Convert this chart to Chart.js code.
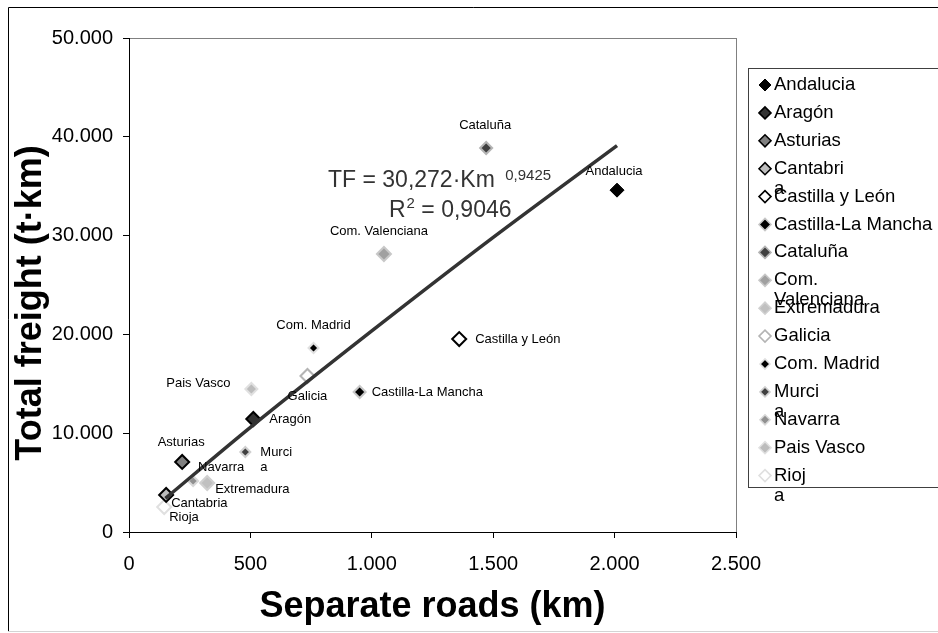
<!DOCTYPE html>
<html>
<head>
<meta charset="utf-8">
<script src="https://cdn.jsdelivr.net/npm/chart.js@4.4.1/dist/chart.umd.min.js"></script>
<style>
  html, body { margin: 0; padding: 0; background: #fff; }
  #wrap { position: relative; width: 938px; height: 633px; overflow: hidden; }
</style>
</head>
<body>
<div id="wrap"><canvas id="js-scatter" width="938" height="633"></canvas></div>
<script>
"use strict";

// データ
const regions = ["Andalucia", "Aragón", "Asturias", "Cantabria", "Castilla y León", "Castilla-La Mancha", "Cataluña", "Com. Valenciana", "Extremadura", "Galicia", "Com. Madrid", "Murcia", "Navarra", "Pais Vasco", "Rioja"];
const roadsKm = [2010, 512, 219, 153, 1360, 950, 1471, 1050, 322, 735, 760, 479, 264, 504, 145];
const freight = [34600, 11440, 7090, 3750, 19530, 14170, 38870, 28140, 4960, 15790, 18620, 8100, 5160, 14470, 2530];
const trendKm = [150, 500, 1000, 1500, 2010];
const trendTF = [3400, 10590, 20350, 29820, 39110];
const xTicks = [0, 500, 1000, 1500, 2000, 2500];
const yTicks = [0, 10000, 20000, 30000, 40000, 50000];

// 表示テキスト(Excel風の折り返し)
const pointText = [["Andalucia"], ["Aragón"], ["Asturias"], ["Cantabria"], ["Castilla y León"], ["Castilla-La Mancha"], ["Cataluña"], ["Com. Valenciana"], ["Extremadura"], ["Galicia"], ["Com. Madrid"], ["Murci", "a"], ["Navarra"], ["Pais Vasco"], ["Rioja"]];
const legendText = [["Andalucia"], ["Aragón"], ["Asturias"], ["Cantabri", "a"], ["Castilla y León"], ["Castilla-La Mancha"], ["Cataluña"], ["Com.", "Valenciana"], ["Extremadura"], ["Galicia"], ["Com. Madrid"], ["Murci", "a"], ["Navarra"], ["Pais Vasco"], ["Rioj", "a"]];

// マーカーのスタイル
const fillColors = ["#000000", "#333333", "#808080", "#bdbdbd", "#ffffff", "#000000", "#404040", "#a0a0a0", "#c0c0c0", "#ffffff", "#000000", "#404040", "#909090", "#bcbcbc", "#ffffff"];
const edgeColors = ["#000000", "#000000", "#000000", "#000000", "#000000", "#c8c8c8", "#b4b4b4", "#c8c8c8", "#d0d0d0", "#b4b4b4", "#e0e0e0", "#d0d0d0", "#d8d8d8", "#e0e0e0", "#e0e0e0"];
const markerRadius = [7, 7, 7, 7, 7, 6, 6, 7, 7, 7, 5, 5, 5, 6, 7];
const edgeWidth = [1, 2, 2, 2, 2, 2, 2, 2, 2, 2, 2, 2, 2, 2, 2];
// ラベル位置 [dx, dy, align]
const labelOffsets = [[-3, -19, "center"], [16, 0, "left"], [-1, -20, "center"], [5, 8, "left"], [16, 0, "left"], [12, 0, "left"], [-1, -23, "center"], [-5, -23, "center"], [8, 6, "left"], [0, 20, "center"], [0, -23, "center"], [15, 0, "left"], [5, -14, "left"], [-21, -6, "right"], [5, 10, "left"]];

const FONT = "'Liberation Sans', Arial, sans-serif";

function formatThousands(v) {
  return String(v).replace(/\B(?=(\d{3})+(?!\d))/g, ".");
}

function diamond(ctx, x, y, r) {
  ctx.beginPath();
  ctx.moveTo(x - r, y);
  ctx.lineTo(x, y - r);
  ctx.lineTo(x + r, y);
  ctx.lineTo(x, y + r);
  ctx.closePath();
}

// 外枠とプロットエリア枠
const frame = {
  id: "frame",
  beforeDraw(chart) {
    const ctx = chart.ctx;
    const a = chart.chartArea;
    ctx.save();
    ctx.fillStyle = "#fff";
    ctx.fillRect(0, 0, chart.width, chart.height);
    ctx.strokeStyle = "#000";
    ctx.lineWidth = 1;
    ctx.beginPath();
    ctx.moveTo(8.5, 632);
    ctx.lineTo(8.5, 7.5);
    ctx.lineTo(938, 7.5);
    ctx.stroke();
    ctx.strokeStyle = "#d4d4d4";
    ctx.beginPath();
    ctx.moveTo(8, 631.5);
    ctx.lineTo(938, 631.5);
    ctx.stroke();
    ctx.strokeStyle = "#808080";
    ctx.strokeRect(a.left + 0.5, a.top + 0.5, a.right - a.left, a.bottom - a.top);
    ctx.restore();
  },
};

// 点ラベル・近似式・縦軸タイトル
const annotations = {
  id: "annotations",
  afterDatasetsDraw(chart) {
    const ctx = chart.ctx;
    const xs = chart.scales.x;
    const ys = chart.scales.y;
    ctx.save();
    ctx.fillStyle = "#000";
    ctx.font = "13px " + FONT;
    ctx.textBaseline = "middle";
    for (let i = 0; i < regions.length; i++) {
      const px = xs.getPixelForValue(roadsKm[i]);
      const py = ys.getPixelForValue(freight[i]);
      const [dx, dy, align] = labelOffsets[i];
      ctx.textAlign = align;
      pointText[i].forEach((line, j) => {
        ctx.fillText(line, px + dx, py + dy + j * 15);
      });
    }

    // TF = 30,272·Km^0,9425
    ctx.fillStyle = "#333";
    ctx.textAlign = "left";
    ctx.textBaseline = "alphabetic";
    ctx.font = "23px " + FONT;
    const l1 = "TF = 30,272·Km ";
    ctx.fillText(l1, 328, 187);
    const w1 = ctx.measureText(l1).width;
    ctx.font = "15px " + FONT;
    ctx.fillText("0,9425", 328 + w1 + 4, 180);
    ctx.font = "23px " + FONT;
    ctx.fillText("R", 389, 217);
    const wr = ctx.measureText("R").width;
    ctx.font = "15px " + FONT;
    ctx.fillText("2", 389 + wr + 1, 208);
    const w2 = ctx.measureText("2").width;
    ctx.font = "23px " + FONT;
    ctx.fillText(" = 0,9046", 389 + wr + w2 + 1, 217);

    // 縦軸タイトル
    ctx.fillStyle = "#000";
    ctx.font = "bold 36px " + FONT;
    ctx.textAlign = "center";
    ctx.textBaseline = "middle";
    ctx.translate(31, 303);
    ctx.rotate(-Math.PI / 2);
    ctx.fillText("Total freight (t·km)", 0, 0);
    ctx.restore();
  },
};

// 凡例
const legendBox = {
  id: "legendBox",
  afterDraw(chart) {
    const ctx = chart.ctx;
    ctx.save();
    ctx.strokeStyle = "#404040";
    ctx.lineWidth = 1;
    ctx.strokeRect(748.5, 68.5, 300, 419);
    ctx.font = "18.5px " + FONT;
    ctx.textBaseline = "middle";
    ctx.textAlign = "left";
    for (let i = 0; i < regions.length; i++) {
      const y = 85 + i * 27.9;
      diamond(ctx, 765, y, Math.min(markerRadius[i], 6));
      ctx.fillStyle = fillColors[i];
      ctx.fill();
      ctx.lineWidth = edgeWidth[i] > 1 ? 1.6 : 1;
      ctx.strokeStyle = edgeColors[i];
      ctx.stroke();
      ctx.fillStyle = "#000";
      legendText[i].forEach((line, j) => {
        ctx.fillText(line, 774, y + j * 20);
      });
    }
    ctx.restore();
  },
};

const datasets = [
  {
    type: "line",
    label: "trend",
    data: trendKm.map((x, i) => ({ x: x, y: trendTF[i] })),
    borderColor: "#333333",
    borderWidth: 3.5,
    pointRadius: 0,
    tension: 0.3,
    fill: false,
    order: 0,
  },
];
regions.forEach((name, i) => {
  datasets.push({
    type: "scatter",
    label: name,
    data: [{ x: roadsKm[i], y: freight[i] }],
    pointStyle: "rectRot",
    pointRadius: markerRadius[i],
    pointBackgroundColor: fillColors[i],
    pointBorderColor: edgeColors[i],
    pointBorderWidth: edgeWidth[i],
    order: 1,
  });
});

const ctx = document.getElementById("js-scatter").getContext("2d");
const scatterChart = new Chart(ctx, {
  type: "scatter",
  data: { datasets: datasets },
  options: {
    responsive: false,
    animation: false,
    layout: { padding: { left: 0, top: 38, right: 202, bottom: 0 } },
    plugins: {
      legend: { display: false },
      tooltip: { enabled: false },
    },
    scales: {
      x: {
        type: "linear",
        min: 0,
        max: 2500,
        afterBuildTicks: (scale) => {
          scale.ticks = xTicks.map((v) => ({ value: v }));
        },
        afterFit: (scale) => {
          scale.height = 101;
        },
        grid: { drawOnChartArea: false, drawTicks: true, tickLength: 6, tickColor: "#000" },
        border: { color: "#000", width: 1 },
        ticks: {
          color: "#000",
          padding: 14,
          font: { family: FONT, size: 20 },
          callback: (v) => formatThousands(v),
        },
        title: {
          display: true,
          text: "Separate roads (km)",
          color: "#000",
          padding: { bottom: 4 },
          font: { family: FONT, size: 36, weight: "bold" },
        },
      },
      y: {
        type: "linear",
        min: 0,
        max: 50000,
        afterBuildTicks: (scale) => {
          scale.ticks = yTicks.map((v) => ({ value: v }));
        },
        afterFit: (scale) => {
          scale.width = 129;
        },
        grid: { drawOnChartArea: false, drawTicks: true, tickLength: 6, tickColor: "#000" },
        border: { color: "#000", width: 1 },
        ticks: {
          color: "#000",
          padding: 10,
          font: { family: FONT, size: 20 },
          callback: (v) => formatThousands(v),
        },
      },
    },
  },
  plugins: [frame, annotations, legendBox],
});
</script>
</body>
</html>
